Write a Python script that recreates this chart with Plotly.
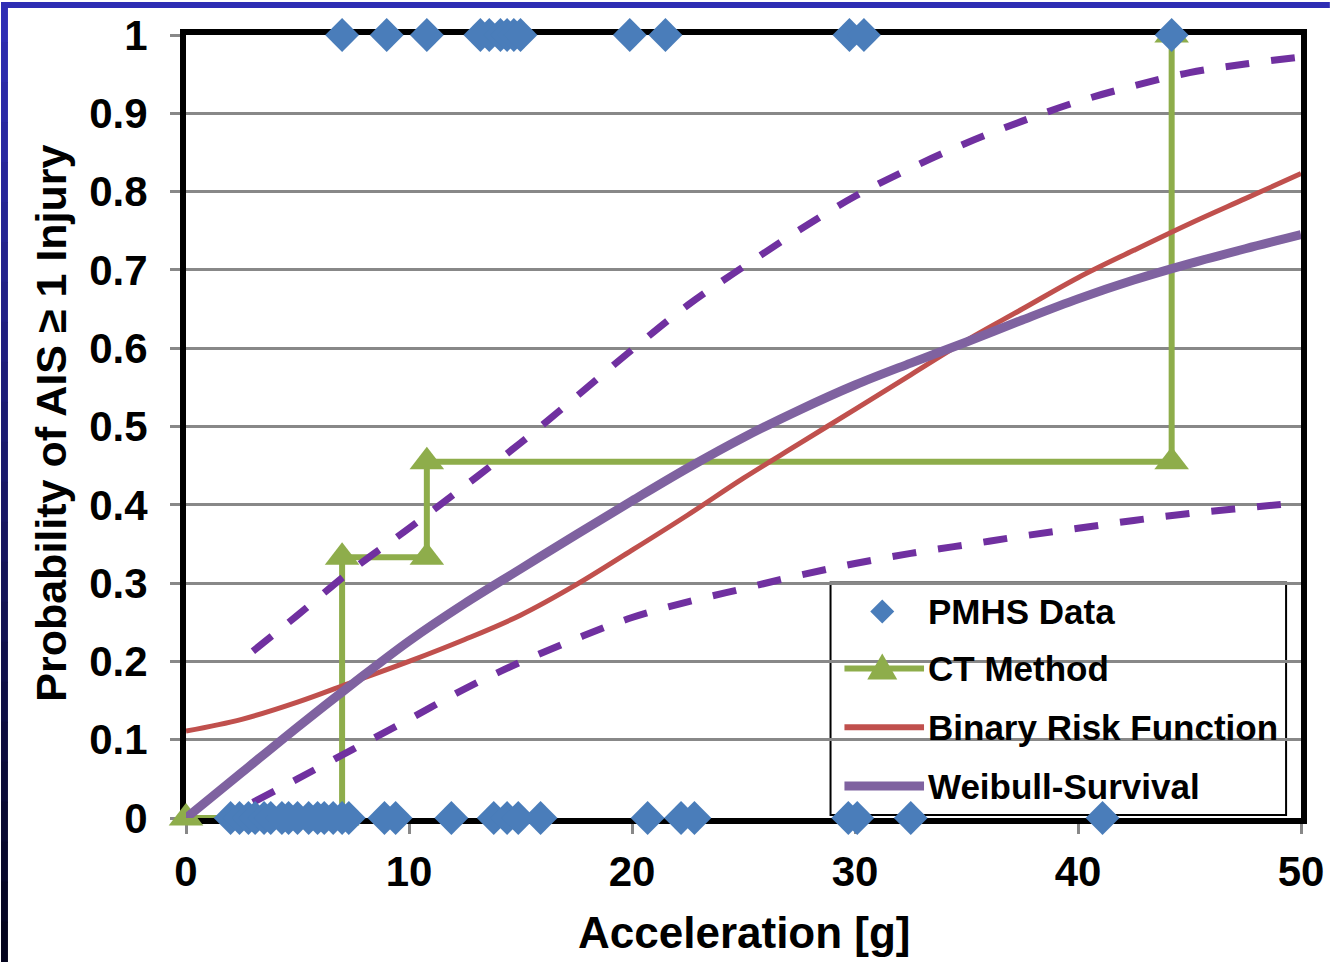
import plotly.graph_objects as go

# ---------------- data ----------------
pmhs_x_injury = [7.0, 9.0, 10.8, 13.2, 13.6, 14.1, 14.4, 14.7, 15.0, 19.9, 21.5, 29.75, 30.4, 44.2]
pmhs_x_noinjury = [2.0, 2.4, 2.8, 3.1, 3.5, 3.8, 4.3, 4.6, 5.0, 5.5, 5.9, 6.2, 6.6, 7.0, 7.3,
                   8.9, 9.4, 11.9, 13.8, 14.4, 14.9, 15.9, 20.7, 22.2, 22.8, 29.7, 30.1, 32.5, 41.1]

ct_x = [0, 7.0, 7.0, 10.8, 10.8, 44.2, 44.2]
ct_y = [0, 0, 0.333, 0.333, 0.455, 0.455, 1.0]

curve_x = [0, 2.5, 5, 7.5, 10, 12.5, 15, 17.5, 20, 22.5, 25, 27.5, 30, 32.5, 35, 37.5, 40, 42.5, 45, 47.5, 50]
binary_risk = [0.111, 0.126, 0.148, 0.174, 0.200, 0.228, 0.259, 0.298, 0.342, 0.387, 0.434, 0.478, 0.522,
               0.566, 0.610, 0.650, 0.690, 0.725, 0.759, 0.791, 0.823]
weibull = [0.0, 0.058, 0.116, 0.172, 0.226, 0.274, 0.318, 0.362, 0.405, 0.447, 0.486, 0.521, 0.553,
           0.581, 0.608, 0.636, 0.663, 0.687, 0.708, 0.727, 0.745]

bound_x = [3.0, 5, 7.5, 10, 12.5, 15, 17.5, 20, 22.5, 25, 27.5, 30, 32.5, 35, 37.5, 40, 42.5, 45, 47.5, 50]
weibull_upper = [0.213, 0.259, 0.318, 0.370, 0.424, 0.479, 0.538, 0.598, 0.655, 0.704, 0.751, 0.794, 0.830,
                 0.862, 0.890, 0.915, 0.935, 0.952, 0.963, 0.972]
weibull_lower = [0.020, 0.050, 0.088, 0.126, 0.165, 0.199, 0.229, 0.256, 0.276, 0.293, 0.310, 0.325, 0.338,
                 0.349, 0.360, 0.370, 0.380, 0.389, 0.396, 0.403]

x_ticks = [0, 10, 20, 30, 40, 50]
y_ticks = [0, 0.1, 0.2, 0.3, 0.4, 0.5, 0.6, 0.7, 0.8, 0.9, 1]
y_tick_text = ["0", "0.1", "0.2", "0.3", "0.4", "0.5", "0.6", "0.7", "0.8", "0.9", "1"]

legend_names = ["PMHS Data", "CT Method", "Binary Risk Function", "Weibull-Survival"]

# ---------------- style ----------------
C_DIAMOND = "#4A7DBA"
C_GREEN = "#8EAD4B"
C_RED = "#C0504D"
C_PURPLE = "#7F62A0"
C_DASH = "#7030A0"
FONT = "Liberation Sans, Arial, sans-serif"

W, H = 1336, 962
L, R, T, B = 186, 29, 33, 144
PW, PH = W - L - R, H - T - B


def px2x(px):
    return (px - L) / PW


def px2y(py):
    return (H - B - py) / PH


fig = go.Figure()

fig.add_trace(go.Scatter(x=ct_x, y=ct_y, mode="lines+markers", name=legend_names[1], showlegend=False,
                         line=dict(color=C_GREEN, width=6),
                         marker=dict(symbol="triangle-up", size=30, color=C_GREEN), cliponaxis=False))
fig.add_trace(go.Scatter(x=curve_x, y=binary_risk, mode="lines", name=legend_names[2], showlegend=False,
                         line=dict(color=C_RED, width=5, shape="spline")))
fig.add_trace(go.Scatter(x=curve_x, y=weibull, mode="lines", name=legend_names[3], showlegend=False,
                         line=dict(color=C_PURPLE, width=9, shape="spline")))
fig.add_trace(go.Scatter(x=bound_x, y=weibull_upper, mode="lines", showlegend=False,
                         line=dict(color=C_DASH, width=7, dash="24px,22px", shape="spline")))
fig.add_trace(go.Scatter(x=bound_x, y=weibull_lower, mode="lines", showlegend=False,
                         line=dict(color=C_DASH, width=7, dash="24px,22px", shape="spline")))
fig.add_trace(go.Scatter(x=pmhs_x_injury + pmhs_x_noinjury,
                         y=[1] * len(pmhs_x_injury) + [0] * len(pmhs_x_noinjury),
                         mode="markers", name=legend_names[0], showlegend=False,
                         marker=dict(symbol="diamond", size=26, color=C_DIAMOND), cliponaxis=False))

shapes = []
# frame decoration: blue top strip and dark gradient left strip
shapes.append(dict(type="rect", xref="paper", yref="paper", x0=px2x(0), x1=px2x(W), y0=px2y(6), y1=px2y(0),
                   fillcolor="#2E2DB4", line=dict(width=0), layer="below"))
n_seg = 24
top_c = (46, 45, 180)
bot_c = (4, 4, 30)
for i in range(n_seg):
    f = i / (n_seg - 1)
    c = tuple(int(top_c[k] + (bot_c[k] - top_c[k]) * f) for k in range(3))
    y0p = i * H / n_seg
    y1p = (i + 1) * H / n_seg + 1
    shapes.append(dict(type="rect", xref="paper", yref="paper", x0=px2x(0), x1=px2x(7),
                       y0=px2y(y1p), y1=px2y(y0p), fillcolor="rgb(%d,%d,%d)" % c,
                       line=dict(width=0), layer="below"))

# legend box (between gridlines and traces, so data diamonds sit on top like the original)
LX0, LX1, LY0, LY1 = 834, 1292, 582, 815
shapes.append(dict(type="rect", xref="paper", yref="paper", x0=px2x(LX0), x1=px2x(LX1), y0=px2y(LY1),
                   y1=px2y(LY0), fillcolor="white", line=dict(color="black", width=2), layer="between"))
item_y = [611, 668, 727, 786]
shapes.append(dict(type="line", xref="paper", yref="paper", x0=px2x(848), x1=px2x(928),
                   y0=px2y(item_y[1]), y1=px2y(item_y[1]), line=dict(color=C_GREEN, width=6)))
shapes.append(dict(type="line", xref="paper", yref="paper", x0=px2x(848), x1=px2x(928),
                   y0=px2y(item_y[2]), y1=px2y(item_y[2]), line=dict(color=C_RED, width=6)))
shapes.append(dict(type="line", xref="paper", yref="paper", x0=px2x(848), x1=px2x(928),
                   y0=px2y(item_y[3]), y1=px2y(item_y[3]), line=dict(color=C_PURPLE, width=9)))
shapes.append(dict(type="path", xref="paper", yref="paper", xsizemode="pixel", ysizemode="pixel",
                   xanchor=px2x(886), yanchor=px2y(item_y[0]),
                   path="M -12 0 L 0 12 L 12 0 L 0 -12 Z", fillcolor=C_DIAMOND, line=dict(width=0)))
shapes.append(dict(type="path", xref="paper", yref="paper", xsizemode="pixel", ysizemode="pixel",
                   xanchor=px2x(886), yanchor=px2y(item_y[1]),
                   path="M -15 -11 L 15 -11 L 0 15 Z", fillcolor=C_GREEN, line=dict(width=0)))

annotations = []
for name, yy in zip(legend_names, item_y):
    annotations.append(dict(text="<b>%s</b>" % name, xref="paper", yref="paper", x=px2x(930), y=px2y(yy),
                            xanchor="left", yanchor="middle", showarrow=False,
                            font=dict(family=FONT, size=35, color="black")))
annotations.append(dict(text="<b>Acceleration [g]</b>", xref="paper", yref="paper", x=px2x(748), y=px2y(933),
                        xanchor="center", yanchor="middle", showarrow=False,
                        font=dict(family=FONT, size=44, color="black")))
annotations.append(dict(text="<b>Probability of AIS ≥ 1 Injury</b>", xref="paper", yref="paper",
                        x=px2x(50), y=px2y(422), xanchor="center", yanchor="middle", textangle=-90,
                        showarrow=False, font=dict(family=FONT, size=43, color="black")))

fig.update_layout(
    width=W, height=H,
    margin=dict(l=L, r=R, t=T, b=B, pad=0),
    paper_bgcolor="white", plot_bgcolor="white",
    showlegend=False,
    shapes=shapes, annotations=annotations,
    font=dict(family=FONT, color="black"),
)
fig.update_xaxes(range=[0, 50], tickmode="array", tickvals=x_ticks, ticktext=["<b>%d</b>" % v for v in x_ticks],
                 tickfont=dict(family=FONT, size=42, color="black"), showgrid=False, zeroline=False,
                 showline=True, linecolor="black", linewidth=6, mirror=True,
                 ticks="outside", ticklen=10, tickwidth=3, tickcolor="#888888", ticklabelstandoff=2,
                 layer="below traces")
fig.update_yaxes(range=[0, 1], tickmode="array", tickvals=y_ticks, ticktext=["<b>%s</b>" % t for t in y_tick_text],
                 tickfont=dict(family=FONT, size=42, color="black"), showgrid=True, gridcolor="#888888",
                 gridwidth=3, zeroline=False,
                 showline=True, linecolor="black", linewidth=6, mirror=True,
                 ticks="outside", ticklen=10, tickwidth=3, tickcolor="#888888", ticklabelstandoff=14,
                 layer="below traces")

fig.write_html("out.html")
